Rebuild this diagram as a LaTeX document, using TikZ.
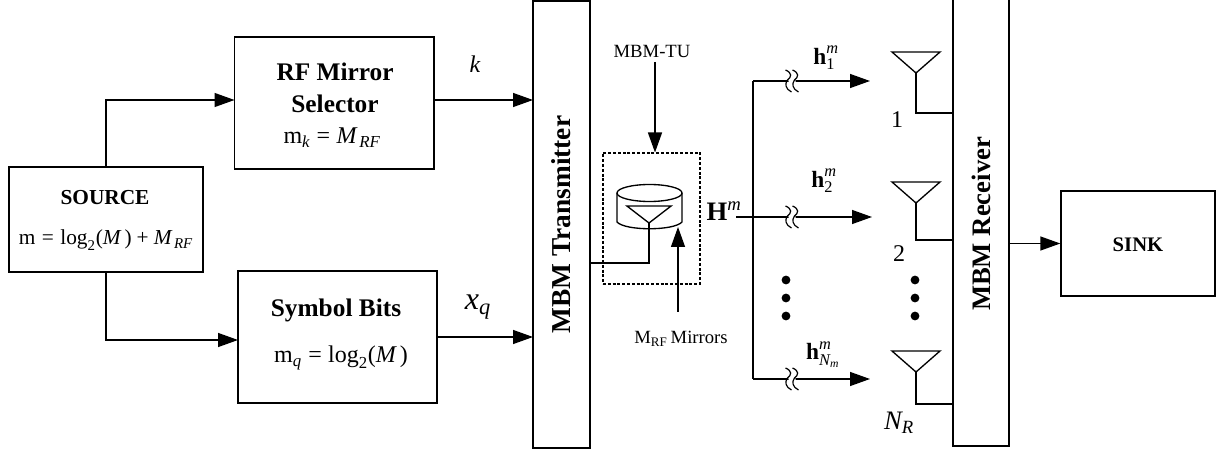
\documentclass[tikz,border=0pt]{standalone}
\usepackage{amsmath}
\usepackage{fontspec}
\setmainfont{Liberation Serif}
\usepackage{tikz}
\usetikzlibrary{arrows.meta,positioning,calc}
\newcommand{\fsz}[1]{\fontsize{#1}{#1}\selectfont}
\newcommand{\mi}[1]{\text{\itshape #1}}
\newcommand{\eqs}{\mathrel{\text{=}}}
\tikzset{
  blockbox/.style={draw, line width=1pt, inner sep=0pt},
  lbl/.style={inner sep=0pt},
  arr/.style={-{Triangle[length=15pt, width=10.5pt]}, line width=1pt},
  wire/.style={line width=1pt},
  antenna/.pic={
    \draw[wire] (-24,0) -- (24,0) -- (0,21) -- cycle;
    \coordinate (-feed) at (0,21);
  },
  linebreak/.pic={
    \fill[white] (-5,-11) -- (2,-11) -- (5,11) -- (-2,11) -- cycle;
    \foreach \d in {-3.5,3.5} {
      \draw[line width=0.9pt, shift={(\d,0)}] (-3,-11) .. controls (4,-8) and (3,-4) .. (-1,-1)
        .. controls (-4,3) and (-3,8) .. (3,11);
    }
  },
}
\begin{document}
\begin{tikzpicture}[x=0.75pt, y=-0.75pt]
  \useasboundingbox (0,0) rectangle (1217,452);
  \clip (0,0) rectangle (1217,452);

  % Blocks
  \node[blockbox, minimum width=145.5pt, minimum height=78.75pt] (source) at (106,219.5) {};
  \node[blockbox, minimum width=149.6pt, minimum height=99pt] (rfsel) at (334.25,103) {};
  \node[blockbox, minimum width=149.25pt, minimum height=99pt] (symbits) at (337.5,337) {};
  \node[blockbox, minimum width=42.75pt, minimum height=335.25pt] (mbmtx) at (561.5,224.5)
    {\rotatebox{90}{\fsz{20.5}\bfseries MBM Transmitter}};
  \node[blockbox, minimum width=42pt, minimum height=340.5pt] (mbmrx) at (981,219) {};
  \node[blockbox, minimum width=115.5pt, minimum height=78.75pt] (sink) at (1138,243.5) {};
  \node[draw, line width=1.7pt, dash pattern=on 2.2pt off 1.4pt, inner sep=0pt,
        minimum width=72.75pt, minimum height=98.25pt] (mirrors) at (651.5,218.5) {};

  % Block texts
  \node[lbl, font=\fsz{16}\bfseries] (sourcet) at (105,198) {SOURCE};
  \node[lbl, font=\fsz{16}] (sourcef) at (106,240)
    {$\text{m}\eqs\text{log}_{\text{2}}\text{(}\mi{M}\,\text{)}\mathbin{\text{+}}\mi{M}_{\,\mi{RF}}$};
  \node[lbl, font=\fsz{19}\bfseries] (rft) at (335,72) {RF Mirror};
  \node[lbl, font=\fsz{19}\bfseries] (selt) at (335,104) {Selector};
  \node[lbl, font=\fsz{18}] (rff) at (332,138) {$\text{m}_{\mi{k}}\eqs\mi{M}_{\,\mi{RF}}$};
  \node[lbl, font=\fsz{19}\bfseries] (symt) at (336,310) {Symbol Bits};
  \node[lbl, font=\fsz{18}] (symf) at (341,358) {$\text{m}_{\mi{q}}\eqs\text{log}_{\text{2}}\text{(}\mi{M}\,\text{)}$};
  \node[lbl, font=\fsz{15.5}\bfseries] (sinkt) at (1138,245) {SINK};
  \node[lbl, font=\fsz{20}\bfseries, rotate=90] (rxt) at (981,224) {MBM Receiver};

  % Signal labels
  \node[lbl, font=\fsz{18}\itshape] (klbl) at (475,64) {k};
  \node[lbl, font=\fsz{24}] (xlbl) at (478,307) {$\mi{x}_{\mi{q}}$};
  \node[lbl, font=\fsz{14}] (tulbl) at (652,51) {MBM-TU};
  \node[lbl, font=\fsz{14}] (mrflbl) at (681,339) {M\textsubscript{RF}\,Mirrors};
  \node[lbl, font=\fsz{20}] (hlbl) at (724,211) {$\text{\bfseries H}^{\mi{m}}$};
  \node[lbl, font=\fsz{17.5}] (h1) at (826,58) {$\text{\bfseries h}_{\text{1}}^{\mi{m}}$};
  \node[lbl, font=\fsz{17.5}] (h2) at (824,181) {$\text{\bfseries h}_{\text{2}}^{\mi{m}}$};
  \node[lbl, font=\fsz{17.5}] (h3) at (823,355) {$\text{\bfseries h}_{\mi{N}_{\mi{m}}}^{\mi{m}}$};
  \node[lbl, font=\fsz{18}] (n1) at (897,120) {1};
  \node[lbl, font=\fsz{18}] (n2) at (899,254) {2};
  \node[lbl, font=\fsz{20}] (n3) at (899,423) {$\mi{N}_{\mi{R}}$};

  % Source outputs and inputs of the transmitter
  \coordinate (rfin) at (234.5,100);
  \coordinate (symin) at (238,340);
  \coordinate (kout) at (434,100);
  \coordinate (kin) at (533,100);
  \coordinate (xout) at (437,337);
  \coordinate (xin) at (533,337);
  \draw[arr] (source.north) |- (rfin);
  \draw[arr] (source.south) |- (symin);
  \draw[arr] (kout) -- (kin);
  \draw[arr] (xout) -- (xin);

  % Mirror unit
  \draw[wire] (617,193) -- (617,222) .. controls (625,231) and (674,231) .. (682,222) -- (682,193);
  \draw[wire] (649.5,193) ellipse (32.5 and 8.5);
  \pic[xscale=0.92, yscale=0.81] (txa) at (649,206) {antenna};
  \coordinate (txcorner) at (649,263);
  \draw[wire] (mbmtx.east |- txcorner) -- (txcorner) -- (txa-feed);
  \coordinate (tuend) at (655,62);
  \draw[arr] (tuend) -- (655,152.5);
  \coordinate (mrfend) at (678,312);
  \draw[arr] (mrfend) -- (678,227);

  % Channel paths
  \coordinate (hstart) at (736,217);
  \coordinate (hjoin) at (753,217);
  \coordinate (hup) at (753,81);
  \coordinate (hdown) at (753,379);
  \coordinate (h1end) at (870,81);
  \coordinate (h2end) at (872,217);
  \coordinate (h3end) at (870,379);
  \draw[wire] (hup) -- (hdown);
  \draw[arr] (hup) -- (h1end);
  \draw[arr] (hstart) -- (h2end);
  \draw[arr] (hdown) -- (h3end);
  \foreach \y in {81,217,379} {
    \pic at (792,\y) {linebreak};
  }

  % Receive antennas
  \foreach \a/\y/\c in {1/52/113, 2/182/240, 3/351/404} {
    \pic (rxa\a) at (916,\y) {antenna};
    \coordinate (rxc\a) at (916,\c);
    \draw[wire] (rxa\a-feed) -- (rxc\a) -- (mbmrx.west |- rxc\a);
  }

  % Dots
  \foreach \x in {786,915} {
    \foreach \y in {280,298,316} {
      \fill (\x,\y) circle (3.3pt);
    }
  }

  % Output
  \coordinate (rxout) at (mbmrx.east |- sink.west);
  \draw[arr] (rxout) -- (sink.west);
\end{tikzpicture}
\end{document}
